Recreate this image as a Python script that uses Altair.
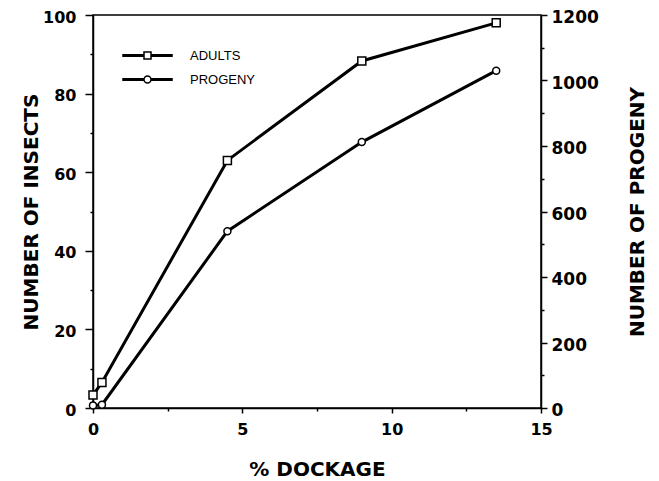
import altair as alt
import pandas as pd

# ---- data ----
dockage = [0, 0.3, 4.5, 9, 13.5]
adults = [3.3, 6.5, 63, 88.3, 98]
progeny = [8, 10, 540, 812, 1030]
series_names = ["ADULTS", "PROGENY"]
x_ticks = [0, 2.5, 5, 7.5, 10, 12.5, 15]
left_ticks = [0, 10, 20, 30, 40, 50, 60, 70, 80, 90, 100]
right_ticks = [0, 100, 200, 300, 400, 500, 600, 700, 800, 900, 1000, 1100, 1200]

df_a = pd.DataFrame({"dockage": dockage, "value": adults, "series": series_names[0]})
df_p = pd.DataFrame({"dockage": dockage, "value": progeny, "series": series_names[1]})
df_leg = pd.DataFrame({"series": series_names})

TICK_FONT = "DejaVu Sans"
TITLE_FONT = "DejaVu Sans"

x_enc = alt.X(
    "dockage:Q",
    scale=alt.Scale(domain=[0, 15], nice=False, zero=False),
    axis=alt.Axis(
        values=x_ticks,
        format="d",
        labelExpr="datum.value % 5 == 0 ? datum.label : ''",
        tickSize={"condition": {"test": "datum.value % 5 == 0", "value": 5}, "value": 3},
        title="% DOCKAGE",
        titleX=224,
        titleY=61,
        titleBaseline="middle",
        titleAlign="center",
        labelPadding=8,
        labelFlush=False,
    ),
)

y_left = alt.Y(
    "value:Q",
    scale=alt.Scale(domain=[0, 100], nice=False),
    axis=alt.Axis(
        orient="left",
        values=left_ticks,
        format="d",
        labelExpr="datum.value % 20 == 0 ? datum.label : ''",
        tickSize={"condition": {"test": "datum.value % 20 == 0", "value": 8}, "value": 3},
        title="NUMBER OF INSECTS",
        titleX=-62,
        titleY=196.5,
        titleAngle=270,
        titleBaseline="middle",
        titleAlign="center",
        labelPadding=9,
        labelOffset=2,
        labelFlush=False,
    ),
)

y_right = alt.Y(
    "value:Q",
    scale=alt.Scale(domain=[0, 1200], nice=False),
    axis=alt.Axis(
        orient="right",
        values=right_ticks,
        format="d",
        labelExpr="datum.value % 200 == 0 ? datum.label : ''",
        tickSize={"condition": {"test": "datum.value % 200 == 0", "value": 6}, "value": 3},
        title="NUMBER OF PROGENY",
        titleX=96,
        titleY=196.5,
        titleAngle=270,
        titleBaseline="middle",
        titleAlign="center",
        labelPadding=4,
        labelFontSize=17,
        labelOffset=2.5,
        labelFlush=False,
    ),
)

sq_path = "M-7,-0.2H-1V0.2H-7Z M1,-0.2H7V0.2H1Z M-1,-1H1V1H-1Z"
ci_path = "M-7,-0.2H-1V0.2H-7Z M1,-0.2H7V0.2H1Z M1,0A1,1,0,1,1,-1,0A1,1,0,1,1,1,0Z"

a_line = alt.Chart(df_a).mark_line(color="black", strokeWidth=3).encode(x=x_enc, y=y_left)
a_pts = alt.Chart(df_a).mark_point(
    shape="square", size=64, filled=True, fill="white", stroke="black", strokeWidth=1.5, opacity=1
).encode(x=x_enc, y=y_left)

# legend-only layer: its marks sit outside the plot and are clipped away
leg = alt.Chart(df_leg).mark_point(
    size=49, filled=False, color="black", strokeWidth=1.5, opacity=1, clip=True
).encode(
    x=alt.value(-200),
    y=alt.value(-200),
    shape=alt.Shape(
        "series:N",
        scale=alt.Scale(domain=series_names, range=[sq_path, ci_path]),
        legend=alt.Legend(
            orient="none",
            legendX=48,
            legendY=34,
            title=None,
            padding=0,
            symbolSize=49,
            symbolStrokeColor="black",
            symbolStrokeWidth=1.5,
            symbolOpacity=1,
            labelFont="Liberation Sans",
            labelFontSize=13,
            labelColor="black",
            labelOffset=36,
            rowPadding=10,
        ),
    ),
)

p_line = alt.Chart(df_p).mark_line(color="black", strokeWidth=3).encode(x=x_enc, y=y_right)
p_pts = alt.Chart(df_p).mark_point(
    shape="circle", size=49, filled=True, fill="white", stroke="black", strokeWidth=1.5, opacity=1
).encode(x=x_enc, y=y_right)

left = alt.layer(a_line, a_pts, leg)
right = alt.layer(p_line, p_pts)

chart = (
    alt.layer(left, right)
    .resolve_scale(y="independent")
    .properties(
        width=448,
        height=393,
        padding={"left": 85, "top": 7, "right": 108, "bottom": 72},
        autosize=alt.AutoSizeParams(type="none"),
        background="white",
    )
    .configure_view(stroke="black", strokeWidth=1.5)
    .configure_axis(
        grid=False,
        domainColor="black",
        domainWidth=1.5,
        tickColor="black",
        tickWidth=1.5,
        labelFont=TICK_FONT,
        labelFontSize=16,
        labelFontWeight="bold",
        labelColor="black",
        titleFont=TITLE_FONT,
        titleFontSize=20,
        titleFontWeight="bold",
        titleColor="black",
    )
)

chart.save("out.html", embed_options={"renderer": "svg", "actions": False})
